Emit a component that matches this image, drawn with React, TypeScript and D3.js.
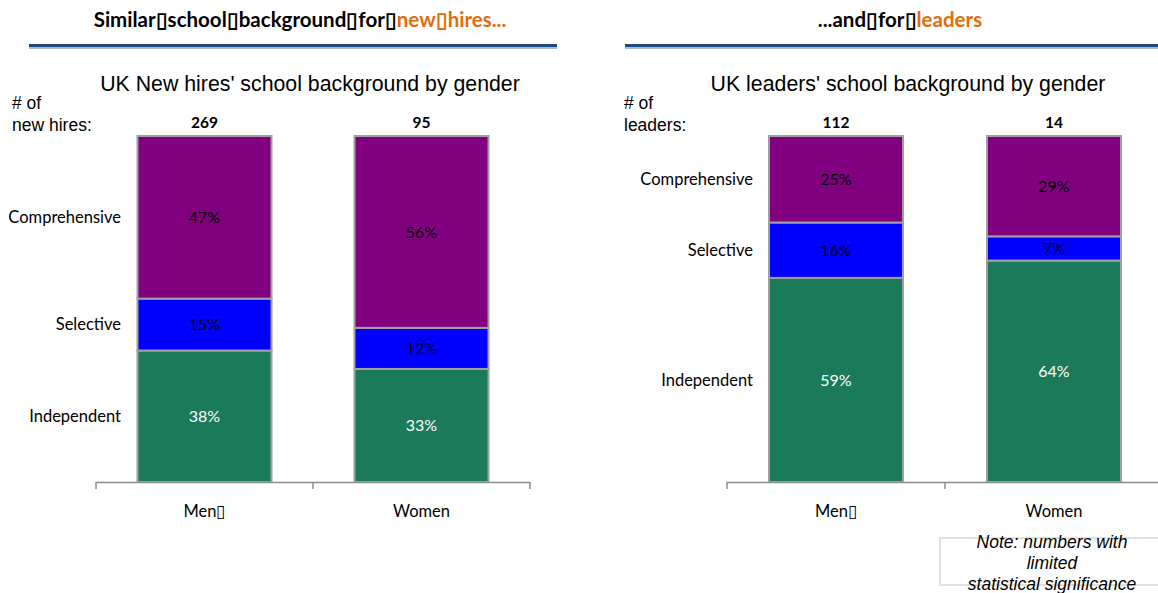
import React from "react";
import * as d3 from "d3";

const W = 1158;
const H = 593;

const genders = ["Men\u25AF", "Women"];
const schoolTypes = ["Independent", "Selective", "Comprehensive"];
const newHireCounts = [269, 95];
const leaderCounts = [112, 14];
// percentages by gender: [Independent, Selective, Comprehensive]
const newHiresMen = [38, 15, 47];
const newHiresWomen = [33, 12, 56];
const leadersMen = [59, 16, 25];
const leadersWomen = [64, 7, 29];

const colors = ["#1A7A5A", "#0000FF", "#800080"];
const labelColors = ["#FFFFFF", "#000000", "#000000"];

const CAL = "Lato, 'Open Sans', sans-serif";
const ARIAL = "'Liberation Sans', Arial, sans-serif";

type PanelProps = {
  x0: number;
  x1: number;
  title: string;
  titleX: number;
  countLabel: string[];
  countLabelX: number;
  counts: number[];
  series: number[][];
  rowLabelX: number;
};

function Panel({ x0, x1, title, titleX, countLabel, countLabelX, counts, series, rowLabelX }: PanelProps) {
  const yTop = 136;
  const yBot = 482;
  const x = d3.scaleBand<string>().domain(genders).range([x0, x1]).paddingInner(0).paddingOuter(0);
  const barW = 134;
  const bars = series.map((vals, gi) => {
    const total = d3.sum(vals);
    const y = d3.scaleLinear().domain([0, total]).range([yBot, yTop]);
    const stack: { v: number; y0: number; y1: number }[] = [];
    let acc = 0;
    vals.forEach((v) => {
      stack.push({ v, y0: y(acc), y1: y(acc + v) });
      acc += v;
    });
    const cx = (x(genders[gi]) as number) + x.bandwidth() / 2;
    return { cx, stack };
  });
  const ticks = [x0, x0 + x.bandwidth(), x1];
  return (
    <g>
      <text x={titleX} y={91} textAnchor="middle" fontFamily={ARIAL} fontSize={21.3} fill="#000">
        {title}
      </text>
      <text x={countLabelX} y={109} fontFamily={ARIAL} fontSize={17.5} fill="#000">{countLabel[0]}</text>
      <text x={countLabelX} y={131} fontFamily={ARIAL} fontSize={17.5} fill="#000">{countLabel[1]}</text>
      {bars.map((b, gi) => (
        <text key={"c" + gi} x={b.cx} y={128} textAnchor="middle" fontFamily={CAL} fontWeight={700} fontSize={15.5} fill="#000">
          {counts[gi]}
        </text>
      ))}
      {bars.map((b, gi) => (
        <g key={"b" + gi}>
          {b.stack.map((s, si) => (
            <rect
              key={si}
              x={b.cx - barW / 2}
              y={s.y1}
              width={barW}
              height={s.y0 - s.y1}
              fill={colors[si]}
              stroke="#A0A0A0"
              strokeWidth={2}
            />
          ))}
          {b.stack.map((s, si) => (
            <text
              key={"t" + si}
              x={b.cx}
              y={(s.y0 + s.y1) / 2}
              dy="0.35em"
              textAnchor="middle"
              fontFamily={CAL}
              fontSize={16}
              fill={labelColors[si]}
            >
              {s.v}%
            </text>
          ))}
        </g>
      ))}
      {schoolTypes.map((name, si) => {
        const s = bars[0].stack[si];
        return (
          <text key={name} x={rowLabelX} y={(s.y0 + s.y1) / 2} dy="0.35em" textAnchor="end" fontFamily={CAL} fontSize={16.5} fill="#000">
            {name}
          </text>
        );
      })}
      <line x1={x0} x2={x1} y1={yBot + 0.5} y2={yBot + 0.5} stroke="#8C8C8C" strokeWidth={1.5} />
      {ticks.map((t, i) => (
        <line key={i} x1={t} x2={t} y1={yBot} y2={yBot + 7} stroke="#8C8C8C" strokeWidth={1.5} />
      ))}
      {bars.map((b, gi) => (
        <text key={"g" + gi} x={b.cx} y={517} textAnchor="middle" fontFamily={CAL} fontSize={16.5} fill="#000">
          {genders[gi]}
        </text>
      ))}
    </g>
  );
}

function Header({ x1, x2, cx, parts }: { x1: number; x2: number; cx: number; parts: { t: string; c: string }[] }) {
  return (
    <g>
      <text x={cx} y={27} textAnchor="middle" fontFamily={CAL} fontWeight={700} fontSize={20.5}>
        {parts.map((p, i) => (
          <tspan key={i} fill={p.c}>{p.t}</tspan>
        ))}
      </text>
      <line x1={x1} x2={x2} y1={47.5} y2={47.5} stroke="#A9BCD6" strokeWidth={3} />
      <line x1={x1} x2={x2} y1={45.5} y2={45.5} stroke="#1F4A7E" strokeWidth={3} />
    </g>
  );
}

export default function App() {
  const box = "\u25AF";
  return (
    <svg width={W} height={H} style={{ position: "absolute", left: 0, top: 0, background: "#fff" }}>
      <Header
        x1={29}
        x2={557}
        cx={300}
        parts={[
          { t: `Similar${box}school${box}background${box}for${box}`, c: "#000" },
          { t: `new${box}hires...`, c: "#E46C0A" },
        ]}
      />
      <Header
        x1={625}
        x2={1158}
        cx={900}
        parts={[
          { t: `...and${box}for${box}`, c: "#000" },
          { t: "leaders", c: "#E46C0A" },
        ]}
      />
      <Panel
        x0={96}
        x1={530}
        title="UK New hires' school background by gender"
        titleX={310}
        countLabel={["# of", "new hires:"]}
        countLabelX={12}
        counts={newHireCounts}
        series={[newHiresMen, newHiresWomen]}
        rowLabelX={121}
      />
      <Panel
        x0={727}
        x1={1163}
        title="UK leaders' school background by gender"
        titleX={908}
        countLabel={["# of", "leaders:"]}
        countLabelX={624}
        counts={leaderCounts}
        series={[leadersMen, leadersWomen]}
        rowLabelX={753}
      />
      <rect x={940} y={538} width={230} height={47} fill="none" stroke="#E4E2D8" strokeWidth={2} />
      <g fontFamily={ARIAL} fontStyle="italic" fontSize={17.5} textAnchor="middle" fill="#000">
        <text x={1052} y={548}>Note: numbers with</text>
        <text x={1052} y={569}>limited</text>
        <text x={1052} y={590}>statistical significance</text>
      </g>
    </svg>
  );
}
